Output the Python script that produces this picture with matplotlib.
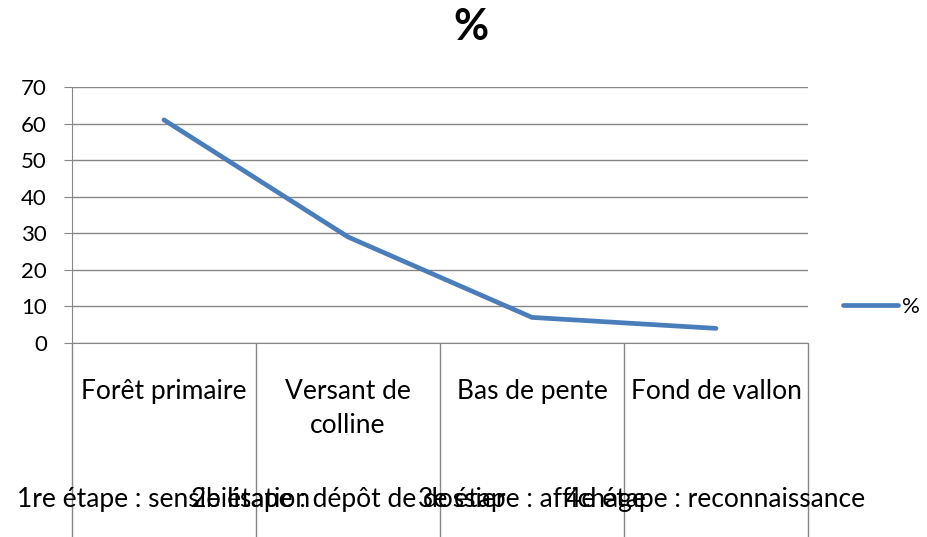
import numpy as np
import matplotlib.pyplot as plt

categories = ["Forêt primaire", "Versant de\ncolline", "Bas de pente", "Fond de vallon"]
steps = ["1re étape : sensibilisation", "2e étape : dépôt de dossier",
         "3e étape : affichage", "4e étape : reconnaissance"]
values = [61, 29, 7, 4]

plt.rcParams['font.family'] = ['Lato', 'DejaVu Sans']

W, H = 927, 537
fig = plt.figure(figsize=(W / 100, H / 100), dpi=100)
left, right, top, bottom = 72, 808, 87, 343
ax = fig.add_axes([left / W, 1 - bottom / H, (right - left) / W, (bottom - top) / H])

grid_color = '#868686'
x = np.arange(len(values))
ax.plot(x, values, color='#4A7EBB', lw=3.4, solid_capstyle='round', label='%')

ax.set_xlim(-0.5, len(values) - 0.5)
ax.set_ylim(0, 70)
ax.set_yticks(range(0, 71, 10))
ax.yaxis.grid(True, color=grid_color, lw=1)
ax.set_axisbelow(True)
for s in ['top', 'right']:
    ax.spines[s].set_visible(False)
ax.spines['left'].set_color(grid_color)
ax.spines['bottom'].set_color(grid_color)
ax.tick_params(axis='y', length=6, color=grid_color, labelsize=16, pad=12)
ax.set_xticks([])

# multi-level category axis
trans = ax.get_xaxis_transform()
ext = (H - bottom) / (bottom - top)
ax.vlines(np.arange(len(values) + 1) - 0.5, -ext, 0, transform=trans,
          color=grid_color, lw=1, clip_on=False)
for i, c in enumerate(categories):
    ax.text(i, -0.14, c, transform=trans, ha='center', va='top',
            fontsize=19, linespacing=1.45)
for i, s in enumerate(steps):
    ax.text(i, -0.61, s, transform=trans, ha='center', va='center', fontsize=19)

fig.text(471 / W, 1 - 27 / H, '%', ha='center', va='center',
         fontsize=31, fontweight='bold')

ax.legend(loc='center left', bbox_to_anchor=(1.02, 0.14), frameon=False,
          fontsize=16, handlelength=2.5, handletextpad=0.15)

fig.savefig('out.png', dpi=100)
